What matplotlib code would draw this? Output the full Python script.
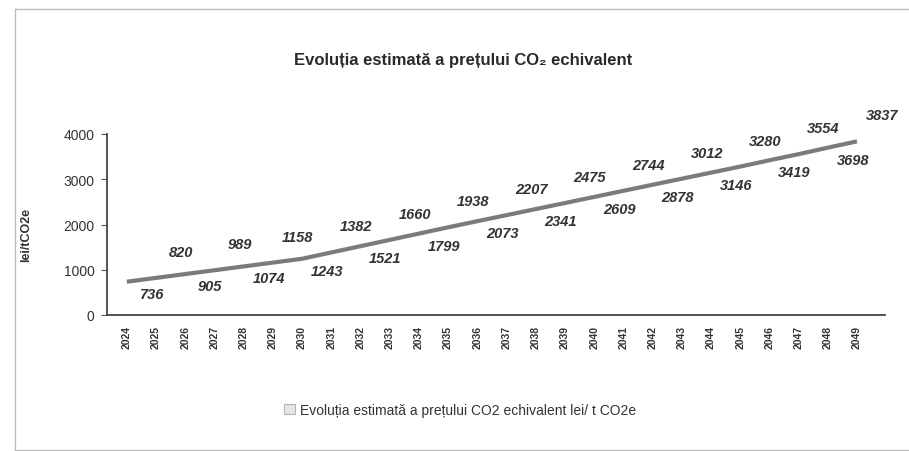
import matplotlib
matplotlib.use("Agg")
import matplotlib.pyplot as plt
from matplotlib.patches import Patch
from matplotlib.lines import Line2D

plt.rcParams["font.family"] = ["Liberation Sans", "DejaVu Sans"]

years = [str(y) for y in range(2024, 2050)]
prices = [736, 820, 905, 989, 1074, 1158, 1243, 1382, 1521, 1660, 1799, 1938, 2073,
          2207, 2341, 2475, 2609, 2744, 2878, 3012, 3146, 3280, 3419, 3554, 3698, 3837]
y_ticks = [0, 1000, 2000, 3000, 4000]

title = "Evoluția estimată a prețului CO₂ echivalent"
y_label = "lei/tCO2e"
series_name = "Evoluția estimată a prețului CO2 echivalent lei/ t CO2e"

W, H = 909, 452
fig = plt.figure(figsize=(W / 100, H / 100), dpi=100)
fig.patch.set_facecolor("white")

# axes box in pixel terms
left, right, top, bottom = 107, 885, 135, 316
ax = fig.add_axes([left / W, 1 - bottom / H, (right - left) / W, (bottom - top) / H])

x = list(range(len(years)))
ax.plot(x, prices, color="#7b7b7b", lw=3.0, solid_capstyle="butt", zorder=3)

ax.set_xlim(-0.68, len(years) - 0.04)
ax.set_ylim(0, 4000)
ax.set_yticks(y_ticks)
ax.set_yticklabels([str(t) for t in y_ticks], fontsize=10, color="#333333")
ax.set_xticks(x)
ax.set_xticklabels(years, rotation=90, fontsize=7.5, fontweight="bold", color="#333333")
ax.tick_params(axis="x", length=0, pad=7)
ax.tick_params(axis="y", length=4, width=0.8, color="#555555", pad=5)

for side in ["top", "right"]:
    ax.spines[side].set_visible(False)
for side in ["left", "bottom"]:
    ax.spines[side].set_color("#444444")
    ax.spines[side].set_linewidth(1.3)

# value labels alternate below / above the line
for i, v in enumerate(prices):
    dy = -12 if i % 2 == 0 else 26
    ax.annotate(str(v), (i, v), xytext=(25, dy), textcoords="offset pixels",
                ha="center", va="center", fontsize=10.5, fontweight="bold",
                fontstyle="italic", color="#333333", zorder=4)

ax.set_ylabel(y_label, fontsize=9, fontweight="bold", color="#333333")
ax.yaxis.set_label_coords((32 - left) / (right - left), 0.45)

fig.text(463 / W, 1 - 60 / H, title, ha="center", va="center",
         fontsize=12, fontweight="bold", color="#2a2a2a")

handle = Patch(facecolor="#e6e6e6", edgecolor="#b5b5b5", lw=0.8)
fig.legend([handle], [series_name], loc="center", bbox_to_anchor=(460 / W, 1 - 411 / H),
           frameon=False, fontsize=10, handlelength=0.8, handleheight=0.8,
           handletextpad=0.4, labelcolor="#333333")

# outer chart frame (top, left, bottom)
frame = dict(color="#bdbdbd", lw=1.0, transform=fig.transFigure)
fig.add_artist(Line2D([15 / W, 1.0], [1 - 10 / H, 1 - 10 / H], **frame))
fig.add_artist(Line2D([15 / W, 15 / W], [1 - 10 / H, 1 - 451 / H], **frame))
fig.add_artist(Line2D([15 / W, 1.0], [1 - 451 / H, 1 - 451 / H], **frame))

fig.savefig("out.png", dpi=100, facecolor="white")
